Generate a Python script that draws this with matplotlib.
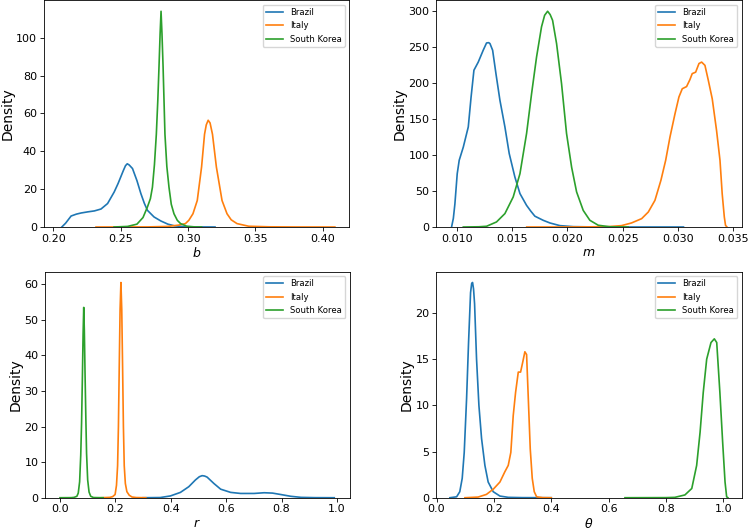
import matplotlib.pyplot as plt

countries = ['Brazil', 'Italy', 'South Korea']
colors = ['#1f77b4', '#ff7f0e', '#2ca02c']

# ── b ─────────────────────────────────────────────────────────────────────────
b_brazil_x = [0.2062, 0.2090, 0.2131, 0.2170, 0.2205, 0.2255, 0.2304, 0.2353, 0.2402,
              0.2451, 0.2480, 0.2500, 0.2520, 0.2535, 0.2548, 0.2562, 0.2587, 0.2620,
              0.2649, 0.2675, 0.2698, 0.2747, 0.2797, 0.2850, 0.2900, 0.2970, 0.3050, 0.3200]
b_brazil_d = [0, 2.0, 5.8, 6.8, 7.4, 8.0, 8.5, 9.5, 12.4, 18.5, 23.0, 26.5, 30.0, 32.4,
              33.4, 32.8, 30.9, 24.5, 17.7, 12.5, 8.8, 5.3, 3.2, 1.5, 0.6, 0.2, 0.05, 0]
b_italy_x = [0.2316, 0.270, 0.285, 0.293, 0.298, 0.3005, 0.3036, 0.3068, 0.3100, 0.3122,
             0.3135, 0.3149, 0.3163, 0.3181, 0.3210, 0.3252, 0.3289, 0.3320, 0.3363,
             0.345, 0.360, 0.380, 0.409]
b_italy_d = [0, 0.05, 0.3, 1.0, 1.8, 3.5, 7, 14, 31.7, 49, 54, 56.4, 55, 49, 31.7, 14,
             7, 3.8, 1.8, 0.4, 0.1, 0.02, 0]
b_korea_x = [0.245, 0.255, 0.262, 0.2665, 0.2698, 0.2720, 0.2735, 0.2750, 0.2764, 0.2775,
             0.2784, 0.2792, 0.2799, 0.2806, 0.2814, 0.2821, 0.2828, 0.2842, 0.2858,
             0.2875, 0.2895, 0.2920, 0.2944, 0.2990, 0.3050, 0.3100]
b_korea_d = [0, 0.3, 1.5, 5, 10.6, 15, 21, 33, 49, 67, 85, 102, 114, 102, 85, 67, 49, 32,
             21, 12, 7, 3.5, 1.8, 0.4, 0.05, 0]

# ── m ─────────────────────────────────────────────────────────────────────────
m_brazil_x = [0.00954, 0.00970, 0.00984, 0.01005, 0.01023, 0.01060, 0.01105, 0.01130,
              0.01156, 0.01195, 0.01240, 0.01270, 0.01290, 0.01301, 0.01325, 0.01355,
              0.01391, 0.01436, 0.01475, 0.01526, 0.01572, 0.01632, 0.01670, 0.01707,
              0.01782, 0.01843, 0.01933, 0.02054, 0.02240, 0.02600, 0.03050]
m_brazil_d = [0, 12, 32, 74, 92.7, 111, 139, 180, 217.7, 229, 245.5, 255.6, 256, 254.7,
              245.5, 213, 176, 139, 102, 69.5, 46.4, 30, 22, 15, 9.3, 5.6, 1.9, 0.5,
              0.1, 0.02, 0]
m_italy_x = [0.01633, 0.0200, 0.0220, 0.0237, 0.0249, 0.0258, 0.02672, 0.02732, 0.02792,
             0.02846, 0.02889, 0.02928, 0.02973, 0.03009, 0.03039, 0.03078, 0.03108,
             0.03129, 0.0316, 0.0319, 0.03214, 0.03244, 0.03274, 0.0331, 0.03349,
             0.0338, 0.0340, 0.03419, 0.0343, 0.03443]
m_italy_d = [0, 0.05, 0.2, 0.5, 1.9, 5.6, 11.6, 20.8, 37, 64.8, 92.6, 125, 157, 180.6,
             192, 195, 204.6, 213, 215, 227, 229, 224.5, 204, 178, 134, 92.6, 46, 14,
             2.3, 0]
m_korea_x = [0.0106, 0.0120, 0.0127, 0.0136, 0.01436, 0.01511, 0.01572, 0.01632,
             0.01677, 0.01722, 0.01767, 0.01795, 0.01822, 0.01845, 0.01867, 0.01903,
             0.01948, 0.01993, 0.02039, 0.02084, 0.02144, 0.02204, 0.0228, 0.02385, 0.0255]
m_korea_d = [0, 0.3, 1, 7, 18.6, 41.7, 74, 130, 185, 236, 278, 294, 299.6, 295, 287,
             254.7, 199, 130, 83, 48.7, 23, 9.3, 2.4, 0.3, 0]

# ── r ─────────────────────────────────────────────────────────────────────────
r_brazil_x = [0.30, 0.362, 0.3986, 0.4348, 0.465, 0.489, 0.503, 0.513, 0.522, 0.531,
              0.5556, 0.58, 0.616, 0.652, 0.7005, 0.737, 0.767, 0.797, 0.833, 0.87,
              0.92, 0.99]
r_brazil_d = [0, 0.05, 0.5, 1.5, 3.1, 5.0, 5.9, 6.2, 6.1, 5.8, 4.0, 2.4, 1.5, 1.2, 1.2,
              1.4, 1.3, 0.9, 0.4, 0.1, 0.02, 0]
r_italy_x = [0.15, 0.18, 0.19, 0.199, 0.204, 0.208, 0.211, 0.214, 0.217, 0.220, 0.223,
             0.226, 0.229, 0.232, 0.236, 0.2415, 0.250, 0.260, 0.275, 0.31]
r_italy_d = [0, 0.1, 0.3, 0.9, 3.5, 9, 20, 37, 53, 60.5, 53, 37, 20, 9, 4.0, 1.7, 0.7,
             0.2, 0.05, 0]
r_korea_x = [0.0, 0.041, 0.051, 0.061, 0.066, 0.071, 0.075, 0.078, 0.081, 0.0835,
             0.0858, 0.088, 0.0905, 0.0935, 0.096, 0.100, 0.105, 0.111, 0.121, 0.156]
r_korea_d = [0, 0.02, 0.1, 0.4, 1.3, 4.5, 12, 21, 34, 46, 53.5, 47, 35, 22, 12.5, 5,
             1.6, 0.4, 0.05, 0]

# ── theta ─────────────────────────────────────────────────────────────────────
t_brazil_x = [0.0465, 0.070, 0.081, 0.0895, 0.0965, 0.1047, 0.1116, 0.1186, 0.1225,
              0.1256, 0.1290, 0.1326, 0.1395, 0.1477, 0.157, 0.1686, 0.180, 0.1977,
              0.221, 0.25, 0.30, 0.40]
t_brazil_d = [0, 0.1, 0.65, 2.1, 4.9, 10.7, 16.8, 22.2, 23.2, 23.3, 22.6, 21, 15, 10,
              6.4, 3.5, 1.7, 0.65, 0.18, 0.04, 0.01, 0]
t_italy_x = [0.099, 0.145, 0.174, 0.198, 0.221, 0.238, 0.25, 0.259, 0.2674, 0.2756,
             0.285, 0.293, 0.300, 0.308, 0.314, 0.320, 0.3267, 0.3337, 0.3407, 0.349,
             0.37, 0.40]
t_italy_d = [0, 0.07, 0.36, 0.93, 1.7, 2.8, 3.5, 4.9, 8.9, 11.4, 13.6, 13.6, 14.6, 15.8,
             15.5, 10.7, 5.3, 2.1, 0.65, 0.1, 0.01, 0]
t_korea_x = [0.657, 0.80, 0.831, 0.866, 0.89, 0.907, 0.919, 0.930, 0.942, 0.957, 0.9686,
             0.977, 0.988, 0.9977, 1.006, 1.0116, 1.016]
t_korea_d = [0, 0.01, 0.04, 0.3, 1.0, 3.5, 7.1, 11.4, 15, 16.8, 17.2, 16.8, 11.4, 6, 1.7,
             0.1, 0]

panels = [
    ('$b$', [(b_brazil_x, b_brazil_d), (b_italy_x, b_italy_d), (b_korea_x, b_korea_d)]),
    ('$m$', [(m_brazil_x, m_brazil_d), (m_italy_x, m_italy_d), (m_korea_x, m_korea_d)]),
    ('$r$', [(r_brazil_x, r_brazil_d), (r_italy_x, r_italy_d), (r_korea_x, r_korea_d)]),
    (r'$\theta$', [(t_brazil_x, t_brazil_d), (t_italy_x, t_italy_d), (t_korea_x, t_korea_d)]),
]

rects = [
    [0.0580, 0.5717, 0.4077, 0.4274],
    [0.5813, 0.5717, 0.4076, 0.4274],
    [0.0600, 0.0609, 0.4060, 0.4264],
    [0.5813, 0.0609, 0.4076, 0.4264],
]
xlims = [(0.1926, 0.4197), (0.00813, 0.03576), (-0.054, 1.045), (-0.002, 1.064)]

fig = plt.figure(figsize=(7.5, 5.3), dpi=100)
fig.patch.set_facecolor('white')

for (xlabel, curves), rect, xlim in zip(panels, rects, xlims):
    ax = fig.add_axes(rect)
    top = 0
    for (xs, ds), name, col in zip(curves, countries, colors):
        ax.plot(xs, ds, color=col, lw=1.2, label=name)
        top = max(top, max(ds))
    ax.set_xlim(*xlim)
    ax.set_ylim(0, top * 1.05)
    ax.set_xlabel(xlabel, fontsize=9, labelpad=2)
    ax.set_ylabel('Density', fontsize=10, labelpad=1)
    ax.tick_params(labelsize=8, length=2.7, width=0.6, pad=2)
    for sp in ax.spines.values():
        sp.set_linewidth(0.6)
    ax.legend(loc='upper right', fontsize=6.1)

plt.savefig('out.png', dpi=100, facecolor='white')
